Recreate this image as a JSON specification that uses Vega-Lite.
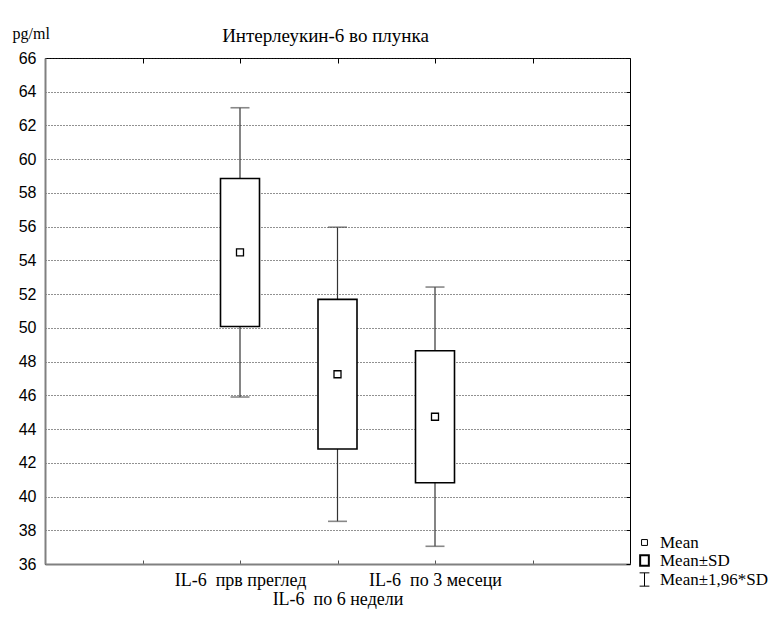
{
  "$schema": "https://vega.github.io/schema/vega-lite/v6.json",
  "width": 585,
  "height": 506,
  "autosize": {"type": "none"},
  "padding": {"left": 45, "top": 58, "right": 142, "bottom": 53},
  "background": "white",
  "title": {
    "text": "Интерлеукин-6 во плунка",
    "font": "Liberation Serif",
    "fontSize": 19,
    "fontWeight": "normal",
    "color": "black",
    "anchor": "middle",
    "frame": "group",
    "dx": -12,
    "dy": 31,
    "offset": 10
  },
  "config": {
    "view": {"stroke": "black", "strokeWidth": 1},
    "axis": {"titleFontWeight": "normal"}
  },
  "datasets": {
    "stats": [
      {"group": "IL-6  прв преглед", "mean": 54.47, "sd_lo": 50.08, "sd_hi": 58.86, "lo196": 45.9, "hi196": 63.05},
      {"group": "IL-6  по 6 недели", "mean": 47.25, "sd_lo": 42.82, "sd_hi": 51.69, "lo196": 38.53, "hi196": 55.97},
      {"group": "IL-6  по 3 месеци", "mean": 44.73, "sd_lo": 40.82, "sd_hi": 48.64, "lo196": 37.05, "hi196": 52.42}
    ],
    "legendItems": [
      {"item": "Mean"},
      {"item": "Mean±SD"},
      {"item": "Mean±1,96*SD"}
    ]
  },
  "layer": [
    {
      "data": {"name": "stats"},
      "mark": {"type": "rule", "color": "#333333", "strokeWidth": 1.2},
      "encoding": {
        "x": {
          "field": "group",
          "type": "nominal",
          "scale": {
            "type": "point",
            "domain": ["start", "IL-6  прв преглед", "IL-6  по 6 недели", "IL-6  по 3 месеци", "end"],
            "padding": 1
          },
          "axis": {
            "orient": "bottom",
            "title": null,
            "domainColor": "#808080",
            "domainWidth": 2,
            "tickColor": "#555555",
            "tickSize": -4,
            "labelAngle": 0,
            "labelFont": "Liberation Serif",
            "labelFontSize": 18,
            "labelColor": "black",
            "labelPadding": 11,
            "labelLineHeight": 19,
            "labelExpr": "datum.value == 'start' || datum.value == 'end' ? '' : (datum.value == 'IL-6  по 6 недели' ? ['', replace(datum.value, '  ', '\u00a0 ')] : replace(datum.value, '  ', '\u00a0 '))"
          }
        },
        "y": {
          "field": "lo196",
          "type": "quantitative",
          "scale": {"domain": [36, 66], "nice": false, "zero": false},
          "axis": {
            "orient": "left",
            "values": [36, 38, 40, 42, 44, 46, 48, 50, 52, 54, 56, 58, 60, 62, 64, 66],
            "domainColor": "#808080",
            "domainWidth": 2,
            "ticks": false,
            "grid": true,
            "gridColor": "#222222",
            "gridDash": [1, 2],
            "gridWidth": 1,
            "labelFont": "Liberation Sans",
            "labelFontSize": 16,
            "labelColor": "black",
            "labelPadding": 9,
            "title": "pg/ml",
            "titleFont": "Liberation Serif",
            "titleFontSize": 16,
            "titleColor": "black",
            "titleAngle": 0,
            "titleAlign": "left",
            "titleBaseline": "alphabetic",
            "titleX": -33,
            "titleY": -20
          }
        },
        "y2": {"field": "hi196"}
      }
    },
    {
      "data": {"name": "stats"},
      "mark": {"type": "bar", "size": 39, "fill": "white", "stroke": "black", "strokeWidth": 1.6},
      "encoding": {
        "x": {
          "field": "group",
          "type": "nominal",
          "axis": {
            "orient": "top",
            "title": null,
            "labels": false,
            "domain": false,
            "tickColor": "black",
            "tickSize": -5
          }
        },
        "y": {
          "field": "sd_lo",
          "type": "quantitative",
          "axis": {
            "orient": "right",
            "title": null,
            "labels": false,
            "domain": false,
            "grid": false,
            "values": [36, 38, 40, 42, 44, 46, 48, 50, 52, 54, 56, 58, 60, 62, 64, 66],
            "tickColor": "black",
            "tickSize": -4
          }
        },
        "y2": {"field": "sd_hi"}
      }
    },
    {
      "data": {"name": "stats"},
      "mark": {"type": "tick", "size": 19, "thickness": 1.6, "color": "#555555"},
      "encoding": {
        "x": {"field": "group", "type": "nominal", "axis": null},
        "y": {"field": "hi196", "type": "quantitative", "axis": null}
      }
    },
    {
      "data": {"name": "stats"},
      "mark": {"type": "tick", "size": 19, "thickness": 1.6, "color": "#555555"},
      "encoding": {
        "x": {"field": "group", "type": "nominal", "axis": null},
        "y": {"field": "lo196", "type": "quantitative", "axis": null}
      }
    },
    {
      "data": {"name": "stats"},
      "mark": {"type": "point", "shape": "square", "size": 49, "filled": true, "fill": "white", "stroke": "black", "strokeWidth": 1.3, "opacity": 1},
      "encoding": {
        "x": {"field": "group", "type": "nominal", "axis": null},
        "y": {"field": "mean", "type": "quantitative", "axis": null}
      }
    },
    {
      "data": {"name": "legendItems"},
      "transform": [{"filter": "false"}],
      "mark": {"type": "point", "size": 196, "filled": false, "color": "black", "opacity": 1},
      "encoding": {
        "shape": {
          "field": "item",
          "type": "nominal",
          "scale": {
            "domain": ["Mean", "Mean±SD", "Mean±1,96*SD"],
            "range": [
              "M-0.42,-0.42H0.42V0.42H-0.42Z",
              "M-0.62,-0.74H0.62V0.74H-0.62Z",
              "M-0.7,-0.95H0.7M0,-0.95V0.95M-0.7,0.95H0.7"
            ]
          },
          "legend": {
            "title": null,
            "orient": "none",
            "legendX": 591,
            "legendY": 476,
            "labelFont": "Liberation Serif",
            "labelFontSize": 17,
            "labelColor": "black",
            "labelOffset": 7,
            "rowPadding": 0,
            "symbolSize": 196,
            "symbolStrokeColor": "black",
            "symbolOpacity": 1
          }
        },
        "strokeWidth": {
          "field": "item",
          "type": "nominal",
          "scale": {"type": "ordinal", "domain": ["Mean", "Mean±SD", "Mean±1,96*SD"], "range": [1, 2, 1]}
        }
      }
    }
  ],
  "resolve": {"axis": {"x": "independent", "y": "independent"}}
}
